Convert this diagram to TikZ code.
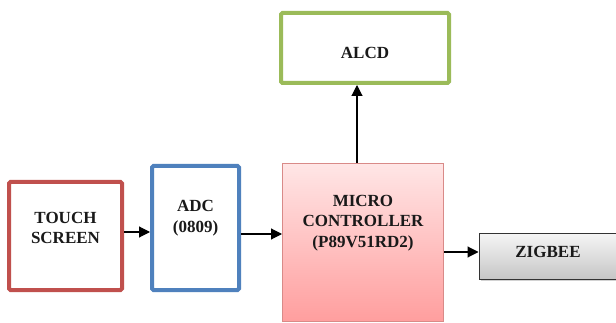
\documentclass[tikz,border=0pt]{standalone}
\usepackage{fontspec}
\setmainfont{Liberation Serif}
\usetikzlibrary{arrows.meta,shadows,calc}
\definecolor{cred}{HTML}{C0504D}
\definecolor{cblue}{HTML}{4F81BD}
\definecolor{cgreen}{HTML}{9BBB59}
\definecolor{mctop}{HTML}{FFE6E6}
\definecolor{mcbot}{HTML}{FF9E9E}
\definecolor{mcborder}{HTML}{D98A88}
\tikzset{
  box/.style={draw, line width=4pt, rounded corners=1.5pt, fill=white},
  lbl/.style={font=\fontsize{17}{20.5}\selectfont\bfseries, align=center, text=black!90},
  arr/.style={line width=1.1pt, -{Triangle[length=11pt,width=11pt]}},
}
\begin{document}
\begin{tikzpicture}[x=1pt,y=-1pt]
\clip (0,0) rectangle (616,323);
\fill[white] (0,0) rectangle (616,323);
% boxes
\node[box, draw=cred, minimum width=113pt, minimum height=108pt] (ts) at (65.5,236) {};
\node[lbl] (tst) at (65.5,228) {TOUCH\\SCREEN};
\node[box, draw=cblue, minimum width=87pt, minimum height=124pt] (adc) at (195.5,228) {};
\node[lbl] (adct) at (195.5,218) {ADC\\(0809)};
\node[draw=mcborder, line width=1pt, top color=mctop, bottom color=mcbot, minimum width=161pt, minimum height=158pt] (mc) at (363,242.5) {};
\node[lbl] (mct) at (363,223) {MICRO\\CONTROLLER\\(P89V51RD2)};
\node[box, draw=cgreen, minimum width=168pt, minimum height=70pt] (alcd) at (365,48) {};
\node[lbl] (alcdt) at (365,53) {ALCD};
\node[draw=black!80, line width=1pt, top color=gray!8, bottom color=gray!45, drop shadow={shadow xshift=1.5pt, shadow yshift=-2pt, opacity=0.35}, minimum width=150pt, minimum height=46pt] (zb) at (554,256.5) {};
\node[lbl] (zbt) at (548,252) {ZIGBEE};
% connector levels
\coordinate (y1) at (0,232);
\coordinate (y2) at (0,234);
\coordinate (y3) at (0,252);
\coordinate (x4) at (357,0);
\draw[arr] (ts.east |- y1) -- (adc.west |- y1);
\draw[arr] (adc.east |- y2) -- (mc.west |- y2);
\draw[arr] (mc.east |- y3) -- (zb.west |- y3);
\draw[arr] (mc.north -| x4) -- (alcd.south -| x4);
\end{tikzpicture}
\end{document}
